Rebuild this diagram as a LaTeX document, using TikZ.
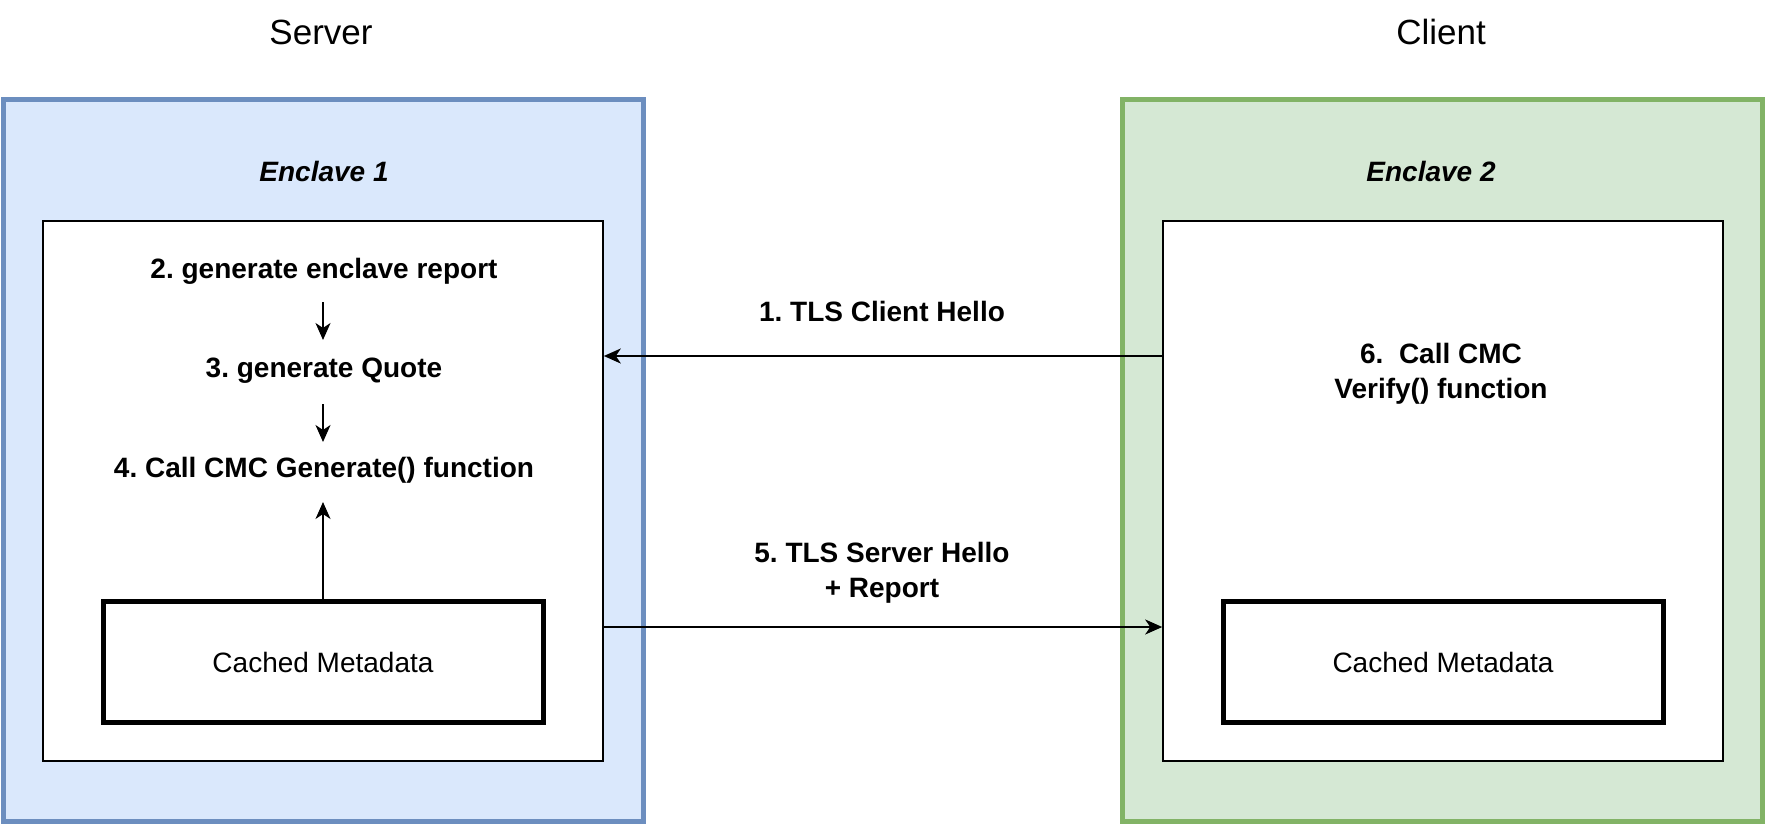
\documentclass[tikz,border=0pt]{standalone}
\usepackage{fontspec}
\setmainfont{Liberation Sans}
\usetikzlibrary{arrows.meta}
\definecolor{bluefill}{HTML}{DAE8FC}
\definecolor{bluestroke}{HTML}{6C8EBF}
\definecolor{greenfill}{HTML}{D5E8D4}
\definecolor{greenstroke}{HTML}{82B366}
\frenchspacing
\begin{document}
\begin{tikzpicture}[x=1pt,y=-1pt,
  outerbox/.style={draw=#1stroke,fill=#1fill,line width=5pt},
  innerbox/.style={draw=black,fill=white,line width=1.6pt},
  cachebox/.style={draw=black,fill=white,line width=5pt},
  lbl/.style={font=\fontsize{28}{35}\selectfont\bfseries,align=center,inner sep=0pt},
  title/.style={font=\fontsize{35}{42}\selectfont,inner sep=0pt},
  enc/.style={font=\fontsize{28}{35}\selectfont\bfseries\itshape,inner sep=0pt},
  cache/.style={font=\fontsize{28}{35}\selectfont,inner sep=0pt},
  arr/.style={draw=black,line width=2pt,-{Stealth[length=17pt,width=15pt,inset=5pt]}},
  sarr/.style={draw=black,line width=2pt,-{Stealth[length=17pt,width=15pt,inset=5pt]}}]
\useasboundingbox (0,0) rectangle (1768,824);
% outer boxes
\draw[outerbox=blue] (3,100) rectangle (643,821);
\draw[outerbox=green] (1122,100) rectangle (1762,821);
% titles
\node[title] (server) at (321,32) {Server};
\node[title] (client) at (1441,32) {Client};
\node[enc] (enc1) at (324,171) {Enclave 1};
\node[enc] (enc2) at (1431,171) {Enclave 2};
% inner boxes
\node[innerbox,minimum width=560pt,minimum height=540pt,inner sep=0pt] (inL) at (323,491) {};
\node[innerbox,minimum width=560pt,minimum height=540pt,inner sep=0pt] (inR) at (1443,491) {};
% cached metadata boxes
\node[cachebox,minimum width=440pt,minimum height=121pt,inner sep=0pt] (cacheL) at (323,662) {};
\node[cache] at (cacheL.center) {Cached Metadata};
\node[cachebox,minimum width=440pt,minimum height=121pt,inner sep=0pt] (cacheR) at (1443,662) {};
\node[cache] at (cacheR.center) {Cached Metadata};
% left steps
\node[lbl] (s2) at (324,271) {2. generate enclave report};
\node[lbl] (s3) at (324,371) {3. generate Quote};
\node[lbl] (s4) at (324,470) {4. Call CMC Generate() function};
\node[lbl] (s6) at (1441,374) {6.\ \ Call CMC\\Verify() function};
% step arrows
\coordinate (a2s) at (323,302); \coordinate (a2e) at (323,340);
\coordinate (a3s) at (323,404); \coordinate (a3e) at (323,442);
\coordinate (a4e) at (323,502);
\draw[sarr] (a2s) -- (a2e);
\draw[sarr] (a3s) -- (a3e);
\draw[sarr] (cacheL.north) -- (a4e);
% TLS arrows
\coordinate (y1) at (0,356);
\coordinate (y5) at (0,627);
\draw[arr] (inR.west |- y1) -- (inL.east |- y1);
\draw[arr] (inL.east |- y5) -- (inR.west |- y5);
\node[lbl] (m1) at (882,311) {1. TLS Client Hello};
\node[lbl] (m5) at (882,573) {5. TLS Server Hello\\+ Report};
\end{tikzpicture}
\end{document}
